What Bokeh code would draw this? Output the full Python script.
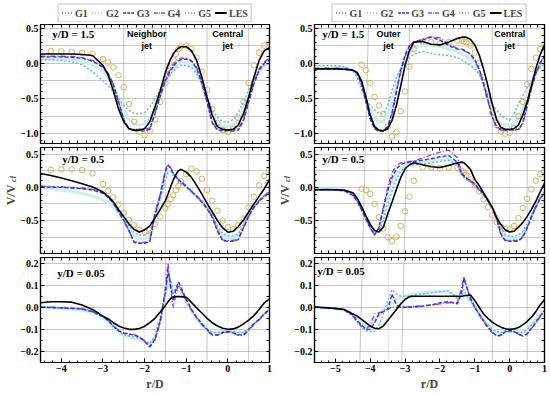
import math
from bokeh.plotting import figure
from bokeh.models import (Range1d, LinearAxis, SingleIntervalTicker, FixedTicker,
                          CustomJSTickFormatter, Legend, LegendItem, Label, Grid)
from bokeh.layouts import row, column
from bokeh.embed import file_html
from bokeh.resources import INLINE

nan = float("nan")

# ---------------- data: left column (neighbor jet / central jet) ----------------
X_L = [-4.5, -4.25, -4.0, -3.75, -3.5, -3.25,
       -3.0, -2.875, -2.75, -2.625, -2.5, -2.375, -2.25, -2.125,
       -2.0, -1.875, -1.75, -1.625, -1.5,
       -1.4375, -1.375, -1.3125, -1.25, -1.1875, -1.125,
       -1.0, -0.875, -0.75, -0.625, -0.5, -0.375, -0.25, -0.125,
       0.0, 0.125, 0.25, 0.375, 0.5, 0.625, 0.75, 0.875, 1.0]

L1_G1 = [nan, 0.17, 0.17, 0.16, 0.15, 0.13,
         0.06, 0.01, -0.06, -0.17, -0.34, -0.58, -0.83, -0.97,
         -1.02, -0.96, -0.8, -0.55, -0.28,
         -0.16, -0.05, 0.05, 0.13, 0.2, 0.24,
         0.25, 0.2, 0.08, -0.12, -0.38, -0.65, -0.85, -0.95,
         -0.98, -0.93, -0.78, -0.55, -0.28, -0.03, 0.15, 0.25, 0.28]
L1_G2 = [0.07, 0.07, 0.065, 0.05, 0.03, -0.02,
         -0.12, -0.2, -0.33, -0.5, -0.68, -0.8, -0.86, -0.88,
         -0.86, -0.78, -0.62, -0.44, -0.27,
         -0.2, -0.13, -0.08, -0.04, -0.01, 0.0,
         0.01, -0.02, -0.1, -0.28, -0.5, -0.72, -0.86, -0.9,
         -0.9, -0.88, -0.8, -0.65, -0.45, -0.27, -0.12, -0.03, 0.02]
L1_G3 = [0.09, 0.09, 0.09, 0.085, 0.07, 0.03,
         -0.06, -0.15, -0.3, -0.55, -0.8, -0.93, -0.96, -0.96,
         -0.96, -0.94, -0.72, -0.47, -0.25,
         -0.17, -0.1, -0.05, 0.0, 0.03, 0.05,
         0.06, 0.03, -0.07, -0.28, -0.55, -0.85, -0.95, -0.96,
         -0.96, -0.96, -0.95, -0.82, -0.55, -0.3, -0.1, 0.0, 0.05]
L1_G4 = [0.1, 0.1, 0.1, 0.095, 0.08, 0.04,
         -0.05, -0.14, -0.3, -0.56, -0.82, -0.93, -0.94, -0.94,
         -0.94, -0.92, -0.7, -0.45, -0.22,
         -0.14, -0.07, -0.02, 0.03, 0.06, 0.07,
         0.07, 0.04, -0.06, -0.27, -0.55, -0.84, -0.93, -0.94,
         -0.94, -0.94, -0.93, -0.8, -0.53, -0.28, -0.08, 0.02, 0.07]
L1_G5 = [0.05, 0.05, 0.04, 0.02, -0.02, -0.12,
         -0.25, -0.32, -0.41, -0.5, -0.6, -0.67, -0.71, -0.72,
         -0.7, -0.62, -0.5, -0.38, -0.26,
         -0.2, -0.15, -0.11, -0.07, -0.05, -0.03,
         -0.03, -0.06, -0.15, -0.3, -0.48, -0.65, -0.77, -0.83,
         -0.84, -0.8, -0.7, -0.55, -0.38, -0.22, -0.1, -0.03, 0.0]
L1_LES = [0.13, 0.13, 0.13, 0.13, 0.125, 0.11,
          -0.03, -0.17, -0.39, -0.65, -0.83, -0.93, -0.95, -0.95,
          -0.93, -0.83, -0.62, -0.39, -0.13,
          -0.03, 0.06, 0.13, 0.18, 0.215, 0.235,
          0.235, 0.18, 0.04, -0.2, -0.48, -0.74, -0.9, -0.94,
          -0.95, -0.94, -0.88, -0.72, -0.48, -0.2, 0.04, 0.18, 0.22]

L2_G1 = [nan, 0.265, 0.27, 0.27, 0.26, 0.21,
         0.05, -0.05, -0.15, -0.26, -0.38, -0.49, -0.57, -0.64,
         -0.67, -0.64, -0.55, -0.44, -0.31,
         -0.25, -0.18, -0.12, -0.04, 0.02, 0.09,
         0.2, 0.28, 0.24, 0.13, -0.04, -0.2, -0.35, -0.5,
         -0.6, -0.63, -0.57, -0.47, -0.3, -0.14, 0.03, 0.17, 0.26]
L2_G2 = [0.0, -0.02, -0.04, -0.06, -0.09, -0.13,
         -0.19, -0.23, -0.29, -0.38, -0.5, -0.63, -0.74, -0.77,
         -0.77, -0.74, -0.42, -0.15, 0.18,
         0.26, 0.26, 0.2, 0.15, 0.11, 0.07,
         0.01, -0.06, -0.13, -0.21, -0.31, -0.44, -0.6, -0.74,
         -0.76, -0.76, -0.74, -0.58, -0.43, -0.3, -0.2, -0.13, -0.07]
L2_G3 = [0.01, 0.0, 0.0, -0.01, -0.02, -0.04,
         -0.09, -0.15, -0.24, -0.37, -0.5, -0.65, -0.83, -0.84,
         -0.84, -0.82, -0.41, -0.135, 0.24,
         0.33, 0.29, 0.215, 0.165, 0.115, 0.08,
         0.015, -0.06, -0.135, -0.22, -0.32, -0.45, -0.66, -0.8,
         -0.81, -0.81, -0.785, -0.61, -0.435, -0.3, -0.21, -0.135, -0.085]
L2_G4 = [0.02, 0.01, 0.005, 0.0, -0.01, -0.03,
         -0.08, -0.14, -0.23, -0.36, -0.5, -0.66, -0.82, -0.83,
         -0.83, -0.8, -0.38, -0.1, 0.26,
         0.35, 0.3, 0.22, 0.17, 0.12, 0.085,
         0.02, -0.055, -0.13, -0.21, -0.31, -0.44, -0.64, -0.79,
         -0.8, -0.8, -0.78, -0.6, -0.43, -0.3, -0.2, -0.13, -0.07]
L2_G5 = [0.02, 0.015, 0.01, 0.0, -0.01, -0.03,
         -0.08, -0.13, -0.21, -0.33, -0.45, -0.58, -0.68, -0.72,
         -0.72, -0.68, -0.42, -0.16, 0.12,
         0.22, 0.24, 0.2, 0.15, 0.1, 0.06,
         0.0, -0.07, -0.14, -0.22, -0.31, -0.43, -0.58, -0.7,
         -0.73, -0.73, -0.7, -0.56, -0.42, -0.3, -0.2, -0.12, -0.06]
L2_LES = [0.21, 0.18, 0.14, 0.10, 0.055, 0.005,
          -0.07, -0.135, -0.22, -0.335, -0.44, -0.55, -0.635, -0.67,
          -0.64, -0.58, -0.46, -0.33, -0.2,
          -0.1, 0.01, 0.11, 0.19, 0.25, 0.27,
          0.23, 0.15, 0.03, -0.1, -0.24, -0.37, -0.5, -0.61,
          -0.675, -0.66, -0.59, -0.49, -0.37, -0.25, -0.135, -0.02, 0.115]

L3_G2 = [0.0, -0.002, -0.004, -0.007, -0.012, -0.025,
         -0.048, -0.065, -0.09, -0.112, -0.128, -0.135, -0.14, -0.145,
         -0.155, -0.17, -0.135, -0.055, 0.05,
         0.13, 0.11, 0.06, 0.08, 0.09, 0.07,
         0.025, -0.015, -0.05, -0.08, -0.1, -0.115, -0.115, -0.11,
         -0.108, -0.11, -0.115, -0.115, -0.097, -0.075, -0.055, -0.03, -0.01]
L3_G3 = [0.0, -0.001, -0.003, -0.005, -0.008, -0.02,
         -0.043, -0.06, -0.085, -0.106, -0.118, -0.122, -0.126, -0.135,
         -0.155, -0.178, -0.144, -0.062, 0.066,
         0.17, 0.1, 0.03, 0.08, 0.115, 0.09,
         0.036, -0.01, -0.045, -0.075, -0.1, -0.125, -0.125, -0.115,
         -0.11, -0.115, -0.125, -0.125, -0.1, -0.075, -0.055, -0.03, -0.008]
L3_G4 = [0.0, 0.0, -0.002, -0.004, -0.007, -0.018,
         -0.04, -0.058, -0.083, -0.104, -0.116, -0.12, -0.124, -0.133,
         -0.152, -0.18, -0.15, -0.07, 0.09,
         0.2, 0.08, 0.0, 0.06, 0.1, 0.08,
         0.03, -0.012, -0.047, -0.078, -0.103, -0.128, -0.127, -0.117,
         -0.112, -0.117, -0.127, -0.128, -0.103, -0.078, -0.057, -0.032, -0.01]
L3_G5 = [0.0, -0.002, -0.004, -0.006, -0.01, -0.022,
         -0.045, -0.062, -0.088, -0.11, -0.125, -0.13, -0.135, -0.14,
         -0.15, -0.165, -0.13, -0.05, 0.06,
         0.15, 0.12, 0.06, 0.09, 0.1, 0.08,
         0.03, -0.015, -0.05, -0.08, -0.1, -0.115, -0.115, -0.11,
         -0.108, -0.11, -0.115, -0.115, -0.097, -0.075, -0.055, -0.03, -0.01]
L3_LES = [0.02, 0.025, 0.025, 0.023, 0.01, -0.01,
          -0.04, -0.053, -0.07, -0.085, -0.094, -0.1, -0.1, -0.096,
          -0.086, -0.07, -0.05, -0.022, 0.008,
          0.025, 0.04, 0.047, 0.048, 0.048, 0.048,
          0.045, 0.022, -0.003, -0.026, -0.05, -0.07, -0.085, -0.095,
          -0.1, -0.098, -0.09, -0.075, -0.058, -0.038, -0.01, 0.02, 0.038]

# ---------------- data: right column (outer jet / central jet) ----------------
X_R = [-5.6, -5.5, -5.25, -5.0, -4.75, -4.5,
       -4.375, -4.25, -4.125, -4.0, -3.875, -3.75, -3.625, -3.5,
       -3.375, -3.25, -3.125, -3.0, -2.875, -2.75,
       -2.5, -2.25, -2.0, -1.75, -1.5,
       -1.375, -1.3125, -1.25, -1.125, -1.0,
       -0.875, -0.75, -0.625, -0.5, -0.375, -0.25, -0.125,
       0.0, 0.125, 0.25, 0.375, 0.5, 0.625, 0.75, 0.875, 1.0]

R1_G1 = [nan, nan, nan, nan, nan, nan,
         nan, -0.02, -0.1, -0.28, -0.48, -0.6, -0.72, -0.9,
         -1.04, -0.98, -0.68, -0.4, -0.05, 0.2,
         0.31, 0.3, 0.28, 0.3, 0.32,
         0.32, 0.31, 0.3, 0.25, 0.15,
         0.0, -0.2, -0.45, -0.7, -0.88, -0.97, -1.0,
         -0.99, -0.92, -0.75, -0.55, -0.3, -0.08, 0.08, 0.2, 0.27]
R1_G2 = [-0.05, -0.05, -0.05, -0.055, -0.065, -0.1,
         -0.18, -0.33, -0.52, -0.68, -0.78, -0.83, -0.83, -0.75,
         -0.55, -0.3, -0.1, 0.05, 0.16, 0.22,
         0.25, 0.26, 0.24, 0.2, 0.16,
         0.13, 0.12, 0.1, 0.05, -0.02,
         -0.12, -0.3, -0.5, -0.68, -0.8, -0.86, -0.88,
         -0.88, -0.85, -0.78, -0.66, -0.48, -0.3, -0.14, -0.03, 0.05]
R1_G3 = [-0.08, -0.08, -0.08, -0.08, -0.085, -0.1,
         -0.15, -0.3, -0.55, -0.8, -0.93, -0.97, -0.96, -0.9,
         -0.7, -0.4, -0.1, 0.12, 0.25, 0.3,
         0.33, 0.37, 0.33, 0.25, 0.2,
         0.2, 0.19, 0.17, 0.13, 0.05,
         -0.08, -0.28, -0.52, -0.76, -0.9, -0.94, -0.95,
         -0.94, -0.94, -0.94, -0.85, -0.6, -0.35, -0.15, 0.0, 0.1]
R1_G4 = [-0.07, -0.07, -0.07, -0.07, -0.075, -0.09,
         -0.14, -0.28, -0.53, -0.78, -0.92, -0.96, -0.96, -0.91,
         -0.72, -0.42, -0.12, 0.1, 0.24, 0.3,
         0.34, 0.38, 0.36, 0.27, 0.21,
         0.19, 0.18, 0.16, 0.12, 0.04,
         -0.09, -0.29, -0.53, -0.77, -0.91, -0.95, -0.95,
         -0.95, -0.95, -0.95, -0.86, -0.62, -0.36, -0.14, 0.01, 0.1]
R1_G5 = [-0.03, -0.03, -0.03, -0.035, -0.05, -0.1,
         -0.2, -0.36, -0.5, -0.6, -0.66, -0.71, -0.72, -0.6,
         -0.38, -0.2, -0.08, 0.0, 0.08, 0.13,
         0.17, 0.14, 0.12, 0.11, 0.08,
         0.05, 0.03, 0.01, -0.03, -0.08,
         -0.16, -0.3, -0.45, -0.58, -0.67, -0.74, -0.78,
         -0.81, -0.72, -0.58, -0.46, -0.35, -0.23, -0.14, -0.06, -0.01]
R1_LES = [-0.08, -0.08, -0.08, -0.08, -0.085, -0.1,
          -0.13, -0.25, -0.48, -0.74, -0.9, -0.95, -0.96, -0.93,
          -0.81, -0.6, -0.32, -0.03, 0.18, 0.3,
          0.31, 0.27, 0.26, 0.3, 0.35,
          0.37, 0.37, 0.37, 0.34, 0.26,
          0.12, -0.08, -0.32, -0.58, -0.8, -0.91, -0.94,
          -0.94, -0.93, -0.88, -0.74, -0.55, -0.32, -0.08, 0.12, 0.26]

R2_G1 = [nan, nan, nan, nan, nan, nan,
         nan, -0.02, -0.04, -0.1, -0.25, -0.45, -0.62, -0.75,
         -0.81, -0.74, -0.58, -0.36, -0.14, 0.1,
         0.3, 0.3, 0.29, 0.3, 0.3,
         0.25, 0.22, 0.19, 0.12, 0.03,
         -0.06, -0.18, -0.3, -0.42, -0.52, -0.59, -0.63,
         -0.63, -0.58, -0.46, -0.31, -0.17, -0.03, 0.1, 0.2, 0.25]
R2_G2 = [-0.03, -0.03, -0.03, -0.035, -0.05, -0.11,
         -0.19, -0.32, -0.46, -0.59, -0.69, -0.64, -0.42, -0.15,
         0.06, 0.2, 0.28, 0.33, 0.35, 0.36,
         0.38, 0.4, 0.43, 0.45, 0.36,
         0.19, 0.16, 0.13, 0.09, 0.04,
         -0.04, -0.1, -0.2, -0.3, -0.44, -0.65, -0.76,
         -0.78, -0.78, -0.77, -0.7, -0.58, -0.44, -0.3, -0.17, -0.08]
R2_G3 = [-0.035, -0.035, -0.035, -0.04, -0.05, -0.12,
         -0.21, -0.34, -0.48, -0.61, -0.72, -0.6, -0.32, -0.05,
         0.15, 0.28, 0.34, 0.37, 0.38, 0.39,
         0.41, 0.43, 0.46, 0.48, 0.38,
         0.2, 0.17, 0.14, 0.1, 0.05,
         -0.03, -0.1, -0.2, -0.3, -0.45, -0.7, -0.8,
         -0.81, -0.81, -0.81, -0.75, -0.62, -0.45, -0.3, -0.17, -0.08]
R2_G4 = [-0.03, -0.03, -0.03, -0.035, -0.045, -0.11,
         -0.2, -0.33, -0.47, -0.6, -0.71, -0.62, -0.3, 0.0,
         0.22, 0.33, 0.37, 0.38, 0.39, 0.4,
         0.44, 0.49, 0.53, 0.56, 0.45,
         0.22, 0.18, 0.15, 0.1, 0.04,
         -0.04, -0.11, -0.21, -0.31, -0.47, -0.72, -0.8,
         -0.8, -0.8, -0.8, -0.74, -0.6, -0.44, -0.29, -0.16, -0.07]
R2_G5 = [-0.03, -0.03, -0.03, -0.035, -0.05, -0.1,
         -0.18, -0.3, -0.44, -0.57, -0.66, -0.66, -0.5, -0.25,
         -0.06, 0.12, 0.24, 0.3, 0.33, 0.34,
         0.35, 0.37, 0.39, 0.41, 0.34,
         0.18, 0.15, 0.12, 0.08, 0.03,
         -0.04, -0.1, -0.19, -0.29, -0.42, -0.6, -0.72,
         -0.74, -0.74, -0.72, -0.66, -0.55, -0.42, -0.29, -0.17, -0.08]
R2_LES = [-0.035, -0.035, -0.035, -0.035, -0.04, -0.08,
          -0.16, -0.29, -0.43, -0.56, -0.65, -0.67, -0.6, -0.4,
          -0.22, -0.03, 0.15, 0.28, 0.34, 0.37,
          0.34, 0.31, 0.3, 0.33, 0.37,
          0.38, 0.37, 0.34, 0.27, 0.12,
          0.03, -0.08, -0.19, -0.3, -0.46, -0.56, -0.64,
          -0.67, -0.66, -0.6, -0.53, -0.44, -0.33, -0.21, -0.07, 0.06]

R3_G2 = [0.0, 0.0, -0.003, -0.006, -0.012, -0.035,
         -0.05, -0.07, -0.085, -0.09, -0.06, -0.035, -0.01, 0.005,
         0.02, 0.035, 0.045, 0.05, 0.055, 0.06,
         0.065, 0.07, 0.07, 0.07, 0.045,
         0.04, 0.06, 0.05, 0.03, 0.0,
         -0.03, -0.06, -0.08, -0.1, -0.11, -0.115, -0.11,
         -0.108, -0.11, -0.115, -0.115, -0.097, -0.075, -0.055, -0.035, -0.015]
R3_G3 = [0.0, 0.0, -0.003, -0.006, -0.01, -0.035,
         -0.06, -0.08, -0.1, -0.1, -0.07, -0.03, -0.02, -0.01,
         0.06, 0.01, 0.0, 0.0, 0.0, 0.002,
         0.005, 0.01, 0.02, 0.025, 0.015,
         0.07, 0.13, 0.1, 0.04, 0.0,
         -0.03, -0.06, -0.09, -0.11, -0.13, -0.125, -0.11,
         -0.105, -0.11, -0.12, -0.13, -0.12, -0.095, -0.07, -0.04, -0.015]
R3_G4 = [0.0, 0.0, -0.003, -0.006, -0.012, -0.04,
         -0.065, -0.085, -0.1, -0.08, -0.03, -0.025, -0.02, -0.01,
         0.0, 0.0, 0.0, 0.0, 0.002, 0.004,
         0.006, 0.01, 0.015, 0.02, 0.02,
         0.09, 0.14, 0.1, 0.04, 0.0,
         -0.035, -0.065, -0.095, -0.115, -0.132, -0.127, -0.112,
         -0.107, -0.112, -0.122, -0.132, -0.122, -0.097, -0.072, -0.042, -0.018]
R3_G5 = [0.0, 0.0, -0.003, -0.006, -0.012, -0.04,
         -0.07, -0.09, -0.105, -0.11, -0.11, -0.08, -0.03, 0.03,
         0.08, 0.06, 0.05, 0.05, 0.05, 0.055,
         0.06, 0.065, 0.07, 0.075, 0.04,
         0.05, 0.08, 0.06, 0.03, 0.0,
         -0.03, -0.06, -0.08, -0.1, -0.11, -0.115, -0.11,
         -0.11, -0.11, -0.115, -0.115, -0.1, -0.08, -0.06, -0.04, -0.02]
R3_LES = [0.0, 0.0, -0.002, -0.005, -0.01, -0.03,
          -0.04, -0.055, -0.07, -0.085, -0.095, -0.097, -0.085, -0.06,
          -0.035, -0.01, 0.015, 0.035, 0.048, 0.05,
          0.05, 0.05, 0.05, 0.05, 0.05,
          0.05, 0.052, 0.053, 0.055, 0.03,
          0.0, -0.03, -0.05, -0.067, -0.08, -0.09, -0.097,
          -0.1, -0.098, -0.092, -0.08, -0.065, -0.045, -0.02, 0.01, 0.035]

# ---------------- axes / labels ----------------
SERIES_NAMES = ["G1", "G2", "G3", "G4", "G5", "LES"]
X_RANGE_L = (-4.5, 1.0)
X_RANGE_R = (-5.6, 1.0)
Y_RANGES = [(-1.14, 0.55), (-0.995, 0.6), (-0.25, 0.225)]
Y_TICK = [0.5, 0.5, 0.1]
Y_MINOR = [5, 5, 2]
Y_GRID = [0.25, 0.25, 0.1]

# jet boundary / centre lines (top of first panel -> bottom of last panel)
JET_L_TOP = [-2.5, -2.0, -1.5, -0.5, 0.0, 0.5]
JET_L_BOT = [-2.5, -2.0, -1.5, -0.5, 0.0, 0.5]
JET_R_TOP = [-4.05, -3.48, -2.87, -0.5, 0.0, 0.5]
JET_R_BOT = [-4.30, -3.48, -3.10, -0.5, 0.0, 0.5]
JET_CENTER = [False, True, False, False, True, False]

# ---------------- styling / layout ----------------
C_G1 = "#d9b15a"
C_G1_LEG = "#e0703c"
C_G2 = "#c8f1ec"
C_G2_LEG = "#8fd9a6"
C_G3 = "#3535cc"
C_G4 = "#a03fd6"
C_G5 = "#5bb5e6"
SERIF = "Liberation Serif"
SANS = "Liberation Sans"

LEG_H = 19
FRAME_H = [119, 106, 105]
B_TOP = [2, 2, 2]
B_BOT = [2, 2, 16]
XLAB_H = 13
COL_H = LEG_H + sum(B_TOP) + sum(FRAME_H) + sum(B_BOT) + XLAB_H
W_L, BL_L, BR_L = 255, 21, 3
W_R, BL_R, BR_R = 256, 21, 3
YLAB_W_L, YLAB_W_R = 15, 19

for arr in [L1_G1, L1_G2, L1_G3, L1_G4, L1_G5, L1_LES, L2_G1, L2_G2, L2_G3, L2_G4, L2_G5, L2_LES,
            L3_G2, L3_G3, L3_G4, L3_G5, L3_LES]:
    assert len(arr) == len(X_L)
for arr in [R1_G1, R1_G2, R1_G3, R1_G4, R1_G5, R1_LES, R2_G1, R2_G2, R2_G3, R2_G4, R2_G5, R2_LES,
            R3_G2, R3_G3, R3_G4, R3_G5, R3_LES]:
    assert len(arr) == len(X_R)

# frame top/bottom positions (px from column top) for slanted jet lines
FT, FB = [], []
_y = LEG_H
for i in range(3):
    FT.append(_y + B_TOP[i])
    FB.append(_y + B_TOP[i] + FRAME_H[i])
    _y += B_TOP[i] + FRAME_H[i] + B_BOT[i]
SPAN = FB[2] - FT[0]


def positions(lo, hi, step):
    k0 = math.ceil(lo / step - 1e-9)
    k1 = math.floor(hi / step + 1e-9)
    return [round(k * step, 6) for k in range(k0, k1 + 1)]


def fmt(dec):
    return CustomJSTickFormatter(code=(
        "const v = Math.abs(tick) < 1e-9 ? 0 : tick;"
        f"return v.toFixed({dec}).replace('-', '\\u2212');"))


def style_axis(ax):
    ax.axis_line_color = "black"
    ax.axis_line_width = 1.2
    ax.major_tick_in = 4
    ax.major_tick_out = 0
    ax.minor_tick_in = 2
    ax.minor_tick_out = 0
    ax.major_tick_line_color = "black"
    ax.minor_tick_line_color = "black"


def labeled_axis(interval, minor, dec):
    ax = LinearAxis(ticker=SingleIntervalTicker(interval=interval, num_minor_ticks=minor))
    style_axis(ax)
    ax.formatter = fmt(dec)
    ax.major_label_text_font = SERIF
    ax.major_label_text_font_style = "bold"
    ax.major_label_text_font_size = "10px"
    ax.major_label_text_color = "black"
    ax.major_label_standoff = 2
    return ax


def plain_axis(lo, hi, step):
    # frame ticks without labels: only minor ticks are drawn, so no label texts exist
    ax = LinearAxis(ticker=FixedTicker(ticks=[], minor_ticks=positions(lo, hi, step)))
    style_axis(ax)
    ax.minor_tick_in = 3
    return ax


def bare_figure(**kw):
    return figure(output_backend="svg", toolbar_location=None,
                  x_axis_type=None, y_axis_type=None, **kw)


def make_panel(i, xs, xr, series, jtop, jbot, width, bl, br, texts):
    yr = Y_RANGES[i]
    h = B_TOP[i] + FRAME_H[i] + B_BOT[i]
    p = bare_figure(width=width, height=h, x_range=Range1d(*xr), y_range=Range1d(*yr),
                    min_border_left=bl, min_border_right=br,
                    min_border_top=B_TOP[i], min_border_bottom=B_BOT[i])
    p.outline_line_color = "black"
    p.outline_line_width = 1.2
    p.border_fill_color = "white"
    p.background_fill_color = "white"
    p.add_layout(Grid(dimension=1, ticker=SingleIntervalTicker(interval=Y_GRID[i]),
                      grid_line_color="#c8c8c8", grid_line_width=1))

    # jet lines
    ft = (FT[i] - FT[0]) / SPAN
    fb = (FB[i] - FT[0]) / SPAN
    for center in (False, True):
        x0 = [t + (b - t) * ft for t, b, c in zip(jtop, jbot, JET_CENTER) if c == center]
        x1 = [t + (b - t) * fb for t, b, c in zip(jtop, jbot, JET_CENTER) if c == center]
        p.segment(x0=x0, y0=[yr[1]] * len(x0), x1=x1, y1=[yr[0]] * len(x1),
                  line_color="#b4b4b4" if center else "#8a8a8a",
                  line_dash="1 2" if center else "1 1", line_width=1)

    g1, g2, g3, g4, g5, les = series
    p.line(xs, g2, line_color=C_G2, line_width=3.2)
    if g1 is not None:
        p.scatter(xs, g1, marker="circle", size=5.5, fill_color=None,
                  line_color=C_G1, line_width=1)
    p.line(xs, g5, line_color=C_G5, line_width=1.4, line_dash="2 2")
    p.line(xs, g4, line_color=C_G4, line_width=1.4, line_dash="5 2 1 2")
    p.line(xs, g3, line_color=C_G3, line_width=1.4, line_dash="4 2")
    p.line(xs, les, line_color="black", line_width=1.6)

    p.add_layout(labeled_axis(Y_TICK[i], Y_MINOR[i], 1), "left")
    p.add_layout(plain_axis(yr[0], yr[1], Y_TICK[i] / Y_MINOR[i]), "right")
    p.add_layout(plain_axis(xr[0], xr[1], 0.2), "above")
    if i == 2:
        p.add_layout(labeled_axis(1, 5, 0), "below")
    else:
        p.add_layout(plain_axis(xr[0], xr[1], 0.2), "below")

    for (t, tx, ty, font, size, align) in texts:
        p.add_layout(Label(x=tx, y=ty, text=t, text_font=font, text_font_size=size,
                           text_font_style="bold", text_color="black",
                           text_align=align, text_baseline="middle"))
    return p


def make_legend(width, bl):
    p = bare_figure(width=width, height=LEG_H, x_range=Range1d(0, 1), y_range=Range1d(0, 1),
                    min_border_left=bl, min_border_right=0, min_border_top=0, min_border_bottom=0)
    p.outline_line_color = None
    styles = [(C_G1_LEG, "1 2", 2.0), (C_G2_LEG, "1 2", 2.0), (C_G3, "3 1", 1.6),
              (C_G4, "4 1 1 1", 1.4), (C_G5, "1 2", 2.0), ("black", "solid", 1.8)]
    items = []
    for name, (c, d, w) in zip(SERIES_NAMES, styles):
        r = p.line([-5, -4], [-5, -4], line_color=c, line_dash=d, line_width=w)
        items.append(LegendItem(label=name, renderers=[r]))
    lg = Legend(items=items, location="center", orientation="horizontal",
                label_text_font=SERIF, label_text_font_style="bold", label_text_font_size="10px",
                glyph_width=12, glyph_height=8, label_standoff=2, spacing=4, padding=3,
                margin=0, label_height=10, label_width=8,
                border_line_color="#8a8a8a", border_line_width=1,
                background_fill_color="white")
    p.add_layout(lg)
    return p


def make_ylabel(width, xv, xc):
    p = bare_figure(width=width, height=COL_H, x_range=Range1d(0, width),
                    y_range=Range1d(0, COL_H),
                    min_border_left=0, min_border_right=0, min_border_top=0, min_border_bottom=0)
    p.outline_line_color = None
    p.add_layout(Label(x=xv, y=COL_H - 191.5, text="V/V", text_font=SERIF,
                       text_font_size="12px", text_font_style="bold", angle=math.pi / 2,
                       text_align="center", text_baseline="middle"))
    p.add_layout(Label(x=xc, y=COL_H - 175.5, text="cl", text_font=SERIF,
                       text_font_size="8px", text_font_style="bold italic", angle=math.pi / 2,
                       text_align="center", text_baseline="middle"))
    return p


def make_xlabel(width, bl, br, xr, xc):
    p = bare_figure(width=width, height=XLAB_H, x_range=Range1d(*xr), y_range=Range1d(0, 1),
                    min_border_left=bl, min_border_right=br, min_border_top=0, min_border_bottom=0)
    p.outline_line_color = None
    p.add_layout(Label(x=xc, y=0.6, text="r/D", text_font=SERIF, text_font_size="12px",
                       text_font_style="bold", text_align="center", text_baseline="middle"))
    return p


texts_L = [
    [("y/D = 1.5", -4.22, 0.42, SERIF, "11px", "left"),
     ("Neighbor", -1.95, 0.42, SANS, "9px", "center"), ("jet", -1.95, 0.25, SANS, "9px", "center"),
     ("Central", 0.0, 0.42, SANS, "9px", "center"), ("jet", 0.0, 0.25, SANS, "9px", "center")],
    [("y/D = 0.5", -3.98, 0.42, SERIF, "11px", "left")],
    [("y/D = 0.05", -4.1, 0.157, SERIF, "11px", "left")],
]
texts_R = [
    [("y/D = 1.5", -5.38, 0.42, SERIF, "11px", "left"),
     ("Outer", -3.48, 0.42, SANS, "9px", "center"), ("jet", -3.48, 0.25, SANS, "9px", "center"),
     ("Central", 0.0, 0.42, SANS, "9px", "center"), ("jet", 0.0, 0.25, SANS, "9px", "center")],
    [("y/D = 0.5", -5.38, 0.42, SERIF, "11px", "left")],
    [("y/D = 0.05", -5.52, 0.165, SERIF, "11px", "left")],
]

series_L = [(L1_G1, L1_G2, L1_G3, L1_G4, L1_G5, L1_LES),
            (L2_G1, L2_G2, L2_G3, L2_G4, L2_G5, L2_LES),
            (None, L3_G2, L3_G3, L3_G4, L3_G5, L3_LES)]
series_R = [(R1_G1, R1_G2, R1_G3, R1_G4, R1_G5, R1_LES),
            (R2_G1, R2_G2, R2_G3, R2_G4, R2_G5, R2_LES),
            (None, R3_G2, R3_G3, R3_G4, R3_G5, R3_LES)]

left = [make_legend(W_L, 11)]
right = [make_legend(W_R, 12)]
for i in range(3):
    left.append(make_panel(i, X_L, X_RANGE_L, series_L[i], JET_L_TOP, JET_L_BOT,
                           W_L, BL_L, BR_L, texts_L[i]))
    right.append(make_panel(i, X_R, X_RANGE_R, series_R[i], JET_R_TOP, JET_R_BOT,
                            W_R, BL_R, BR_R, texts_R[i]))
left.append(make_xlabel(W_L, BL_L, BR_L, X_RANGE_L, -1.75))
right.append(make_xlabel(W_R, BL_R, BR_R, X_RANGE_R, -2.3))

root = row(make_ylabel(YLAB_W_L, 8, 10.5), column(*left),
           make_ylabel(YLAB_W_R, 12, 14.5), column(*right),
           styles={"position": "absolute", "top": "3px", "left": "2px"})

with open("out.html", "w", encoding="utf-8") as f:
    f.write(file_html(root, INLINE))
